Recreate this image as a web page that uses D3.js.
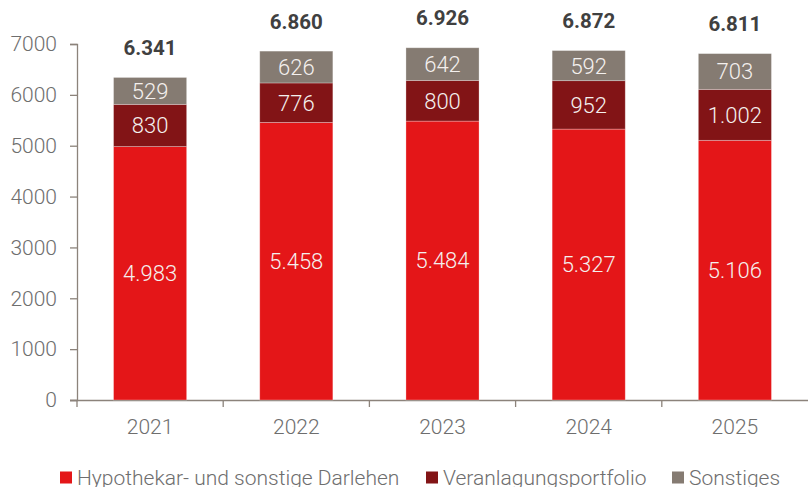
<!DOCTYPE html>
<html>
<head>
<meta charset="utf-8">
<script src="https://cdn.jsdelivr.net/npm/d3@7"></script>
<style>
  body { margin: 0; background: #fff; }
  svg text { font-family: Roboto, "Noto Sans", sans-serif; }
</style>
</head>
<body>
<div id="chart"></div>
<script>
// chart values
var years = ["2021", "2022", "2023", "2024", "2025"];
var darlehen = [4983, 5458, 5484, 5327, 5106];
var portfolio = [830, 776, 800, 952, 1002];
var sonstiges = [529, 626, 642, 592, 703];
// totals as printed (rounded separately in the source)
var totals = [6341, 6860, 6926, 6872, 6811];
var seriesNames = ["Hypothekar- und sonstige Darlehen", "Veranlagungsportfolio", "Sonstiges"];
var yTicks = [0, 1000, 2000, 3000, 4000, 5000, 6000, 7000];

var colors = ["#e41618", "#821416", "#857b72"];
var W = 808, H = 487;
var margin = {left: 77, right: 0, top: 44, bottom: 87};

var fmt = function (v) {
    // German thousands separator
    return d3.format(",")(v).replace(/,/g, ".");
};

var svg = d3.select("#chart").append("svg")
    .attr("width", W).attr("height", H);

var x = d3.scaleBand().domain(years)
    .range([margin.left, W - margin.right])
    .paddingInner(0.5).paddingOuter(0.25);
var y = d3.scaleLinear().domain([0, 7000])
    .range([H - margin.bottom, margin.top]);

var rows = years.map(function (yr, i) {
    return {year: yr, a: darlehen[i], b: portfolio[i], c: sonstiges[i], total: totals[i]};
});
var stack = d3.stack().keys(["a", "b", "c"])(rows);

// axes
var yAxis = svg.append("g")
    .attr("transform", "translate(" + margin.left + ",0)")
    .call(d3.axisLeft(y).tickValues(yTicks).tickSize(7).tickPadding(13).tickFormat(d3.format("d")));
var xAxis = svg.append("g")
    .attr("transform", "translate(0," + y(0) + ")")
    .call(d3.axisBottom(x).tickSize(0).tickPadding(19));

[yAxis, xAxis].forEach(function (g) {
    g.selectAll("path, line").attr("stroke", "#8c837b").attr("stroke-width", 1.3);
    g.selectAll("text").attr("fill", "#6e6e6e").style("font-size", "21px").style("font-weight", 300);
});
xAxis.select(".domain").attr("d", "M" + (margin.left - 7) + ",0.5H" + W);

// category separator ticks
var step = x.step();
var seps = d3.range(years.length).map(function (i) { return margin.left + i * step; });
svg.append("g").selectAll("line").data(seps).enter().append("line")
    .attr("x1", function (d) { return d; }).attr("x2", function (d) { return d; })
    .attr("y1", y(0)).attr("y2", y(0) + 7)
    .attr("stroke", "#8c837b").attr("stroke-width", 1.3);

// bars
var layers = svg.append("g").selectAll("g").data(stack).enter().append("g")
    .attr("fill", function (d, i) { return colors[i]; });
layers.selectAll("rect").data(function (d) { return d; }).enter().append("rect")
    .attr("x", function (d) { return x(d.data.year); })
    .attr("width", x.bandwidth())
    .attr("y", function (d) { return y(d[1]); })
    .attr("height", function (d) { return y(d[0]) - y(d[1]); })
    .attr("stroke", "rgba(255,255,255,0.35)").attr("stroke-width", 0.8);

// segment labels
layers.selectAll("text").data(function (d) { return d; }).enter().append("text")
    .attr("x", function (d) { return x(d.data.year) + x.bandwidth() / 2; })
    .attr("y", function (d) { return (y(d[0]) + y(d[1])) / 2; })
    .attr("dy", "0.36em")
    .attr("text-anchor", "middle")
    .attr("fill", "#f4f0ee")
    .style("font-size", "22px").style("font-weight", 300)
    .text(function (d) { return fmt(d[1] - d[0]); });

// totals
svg.append("g").selectAll("text").data(rows).enter().append("text")
    .attr("x", function (d) { return x(d.year) + x.bandwidth() / 2; })
    .attr("y", function (d) { return y(d.total) - 30; })
    .attr("dy", "0.36em")
    .attr("text-anchor", "middle")
    .attr("fill", "#404040")
    .style("font-size", "20.5px").style("font-weight", "bold")
    .text(function (d) { return fmt(d.total); });

// legend
var legendX = [60, 426, 672];
var legend = svg.append("g").selectAll("g").data(seriesNames).enter().append("g")
    .attr("transform", function (d, i) { return "translate(" + legendX[i] + ",477.5)"; });
legend.append("rect")
    .attr("x", 0).attr("y", -6).attr("width", 12).attr("height", 12)
    .attr("fill", function (d, i) { return colors[i]; });
legend.append("text")
    .attr("x", 17).attr("dy", "0.36em")
    .attr("fill", "#6e6e6e")
    .style("font-size", "21px").style("font-weight", 300)
    .text(function (d) { return d; });
</script>
</body>
</html>
